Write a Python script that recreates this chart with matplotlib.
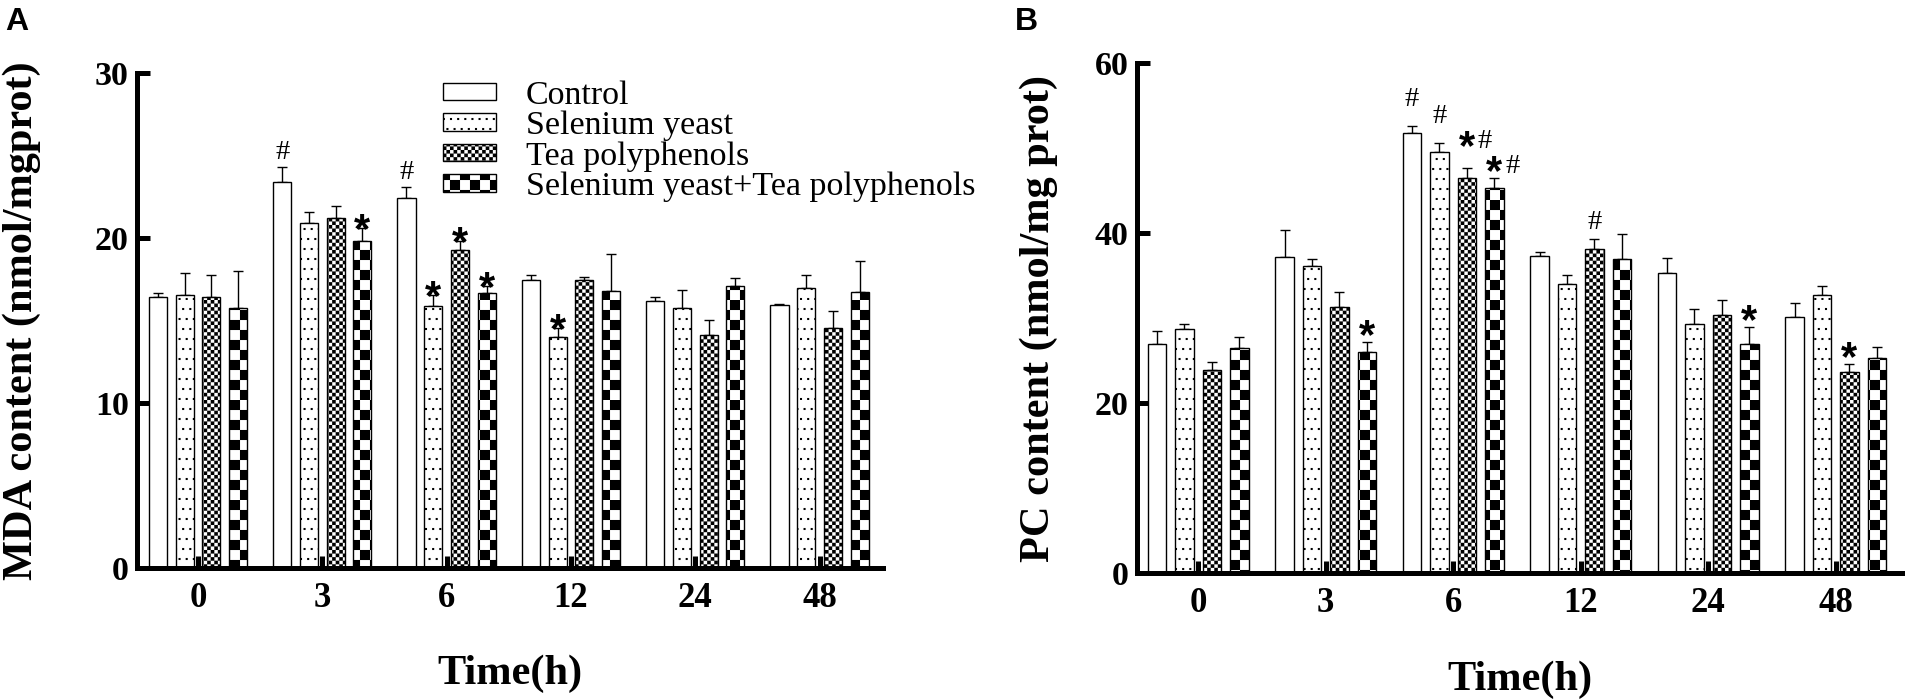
import warnings
warnings.filterwarnings('ignore')
import numpy as np
import matplotlib
matplotlib.use('Agg')
import matplotlib.pyplot as plt
import matplotlib.hatch as mhatch
from matplotlib.path import Path
from matplotlib.font_manager import FontProperties

# ---------------- data ----------------
times = ['0', '3', '6', '12', '24', '48']
series = ['Control', 'Selenium yeast', 'Tea polyphenols', 'Selenium yeast+Tea polyphenols']

mda_control = [16.4, 23.4, 22.45, 17.45, 16.2, 15.95]
mda_se = [16.55, 20.9, 15.9, 14.0, 15.75, 16.95]
mda_tea = [16.4, 21.2, 19.25, 17.45, 14.15, 14.55]
mda_combo = [15.75, 19.8, 16.65, 16.8, 17.1, 16.7]
mda_control_err = [0.25, 0.93, 0.65, 0.29, 0.22, 0.05]
mda_se_err = [1.33, 0.67, 0.65, 0.55, 1.11, 0.79]
mda_tea_err = [1.33, 0.71, 0.55, 0.2, 0.91, 1.01]
mda_combo_err = [2.24, 0.8, 0.44, 2.24, 0.47, 1.88]

pc_control = [27.0, 37.2, 51.8, 37.35, 35.35, 30.1]
pc_se = [28.65, 36.15, 49.55, 33.95, 29.25, 32.75]
pc_tea = [23.9, 31.25, 46.5, 38.1, 30.3, 23.6]
pc_combo = [26.45, 26.05, 45.25, 37.0, 26.9, 25.35]
pc_control_err = [1.48, 3.13, 0.82, 0.36, 1.69, 1.63]
pc_se_err = [0.7, 0.74, 1.06, 1.14, 1.77, 0.98]
pc_tea_err = [0.9, 1.84, 1.18, 1.25, 1.77, 0.94]
pc_combo_err = [1.37, 1.1, 1.25, 2.9, 2.08, 1.26]

mda_marks_control = ['', '#', '#', '', '', '']
mda_marks_se = ['', '', '*', '*', '', '']
mda_marks_tea = ['', '', '*', '', '', '']
mda_marks_combo = ['', '*', '*', '', '', '']
pc_marks_control = ['', '', '#', '', '', '']
pc_marks_se = ['', '', '#', '', '', '']
pc_marks_tea = ['', '', '*#', '#', '', '*']
pc_marks_combo = ['', '*', '*#', '', '*', '']

# ---------------- custom fill patterns ----------------
class BarPatterns(mhatch.HatchPatternBase):
    def __init__(self, hatch, density):
        sq = []
        if 'x' in hatch:  # fine checkerboard
            n = 28
            s = 1.0 / n
            sq += [(i * s, j * s, s, s) for i in range(n) for j in range(n) if (i + j) % 2 == 0]
        if 'X' in hatch:  # coarse checkerboard
            n = 10
            s = 1.0 / n
            sq += [(i * s, j * s, s, s) for i in range(n) for j in range(n) if (i + j) % 2 == 0]
        if '.' in hatch:  # sparse staggered dots
            nc, nr = 14, 10
            d = 0.02
            sq += [(((i + 0.5 * (j % 2)) / nc) % 1.0, j / nr, d, d)
                   for i in range(nc) for j in range(nr)]
        self.squares = sq
        self.num_vertices = 5 * len(sq)

    def set_vertices_and_codes(self, vertices, codes):
        for k, (x0, y0, w, h) in enumerate(self.squares):
            vertices[5 * k:5 * k + 5] = [(x0, y0), (x0 + w, y0), (x0 + w, y0 + h),
                                         (x0, y0 + h), (x0, y0)]
            codes[5 * k:5 * k + 5] = [Path.MOVETO, Path.LINETO, Path.LINETO,
                                      Path.LINETO, Path.CLOSEPOLY]

mhatch._hatch_types[:] = [BarPatterns]

plt.rcParams['font.family'] = ['Liberation Serif', 'DejaVu Sans']
plt.rcParams['hatch.linewidth'] = 0.05
plt.rcParams['hatch.color'] = 'black'

W, H = 1905, 699
fig = plt.figure(figsize=(W / 100, H / 100), dpi=100)
axA = fig.add_axes([137 / W, 1 - 568 / H, (883 - 137) / W, (568 - 73) / H])
axB = fig.add_axes([1137 / W, 1 - 573 / H, (1902 - 1137) / W, (573 - 63) / H])

hatches = ['', '.', 'x', 'X']
step = 0.215
bw = 0.145
star_font = FontProperties(family='Liberation Sans', weight='bold', size=30)
hash_font = FontProperties(family='Liberation Serif', size=20.5)


def panel(ax, vals, errs, marks, ylim, yticks, ylabel, xlim, ylab_x, xlab_y,
          star_gap, hash_gap, nudges):
    x = np.arange(len(times))
    for k in range(4):
        xs = x + (k - 1.5) * step
        ax.bar(xs, vals[k], width=bw, color='white', edgecolor='black',
               linewidth=1.0, hatch=hatches[k], label=series[k], zorder=2)
        ax.errorbar(xs, vals[k], yerr=[np.zeros(len(times)), errs[k]], fmt='none',
                    ecolor='black', elinewidth=1.0, capsize=3.3, capthick=1.0, zorder=1)
        for g in range(len(times)):
            m = marks[k][g]
            if not m:
                continue
            top = vals[k][g] + errs[k][g]
            lift = nudges.get((g, k), 0)
            if m == '#':
                ax.annotate('#', (xs[g], top), xytext=(0, hash_gap + lift),
                            textcoords='offset pixels', ha='center', va='baseline',
                            fontproperties=hash_font)
            elif m == '*':
                ax.annotate('*', (xs[g], top), xytext=(0, star_gap - 17 + lift),
                            textcoords='offset pixels', ha='center', va='baseline',
                            fontproperties=star_font)
            else:
                ax.annotate('*', (xs[g], top), xytext=(0, star_gap - 17 + lift),
                            textcoords='offset pixels', ha='center', va='baseline',
                            fontproperties=star_font)
                ax.annotate('#', (xs[g], top), xytext=(11, star_gap - 6 + lift),
                            textcoords='offset pixels', ha='left', va='baseline',
                            fontproperties=hash_font)
    ax.set_xlim(*xlim)
    ax.set_ylim(*ylim)
    ax.set_yticks(yticks)
    ax.set_xticks(x, times)
    for s in ['top', 'right']:
        ax.spines[s].set_visible(False)
    for s in ['left', 'bottom']:
        ax.spines[s].set_linewidth(3.6)
    ax.tick_params(axis='x', direction='in', length=8.5, width=3.6, pad=10, labelsize=25)
    ax.tick_params(axis='y', direction='in', length=9, width=3.6, pad=6, labelsize=24.5)
    for t in ax.get_xticklabels() + ax.get_yticklabels():
        t.set_fontweight('bold')
    ax.set_ylabel(ylabel, fontsize=30.5, fontweight='bold')
    ax.yaxis.set_label_coords(ylab_x, 0.5)
    ax.set_xlabel('Time(h)', fontsize=30.5, fontweight='bold')
    ax.xaxis.set_label_coords(0.5, xlab_y)


panel(axA,
      [mda_control, mda_se, mda_tea, mda_combo],
      [mda_control_err, mda_se_err, mda_tea_err, mda_combo_err],
      [mda_marks_control, mda_marks_se, mda_marks_tea, mda_marks_combo],
      (0, 30), [0, 10, 20, 30], 'MDA content (nmol/mgprot)', (-0.49, 5.51),
      -0.1287, -0.174, 3, 8, {})

panel(axB,
      [pc_control, pc_se, pc_tea, pc_combo],
      [pc_control_err, pc_se_err, pc_tea_err, pc_combo_err],
      [pc_marks_control, pc_marks_se, pc_marks_tea, pc_marks_combo],
      (0, 60), [0, 20, 40, 60], 'PC content (nmol/mg prot)', (-0.48, 5.52),
      -0.103, -0.1725, 11, 10, {(2, 0): 10, (2, 1): 10, (2, 2): 15})

axA.legend(loc='upper left', bbox_to_anchor=(443 / W, 1 - 80 / H),
           bbox_transform=fig.transFigure, frameon=False, borderpad=0,
           borderaxespad=0, handlelength=1.56, handleheight=0.415,
           handletextpad=0.88, labelspacing=0.0,
           prop=FontProperties(family='Liberation Serif', size=24.5))

fig.text(5 / W, 1 - 30 / H, 'A', fontsize=23, fontweight='bold',
         family='Liberation Sans', va='baseline', ha='left')
fig.text(1015 / W, 1 - 30 / H, 'B', fontsize=23, fontweight='bold',
         family='Liberation Sans', va='baseline', ha='left')

fig.savefig('out.png', dpi=100, facecolor='white')
